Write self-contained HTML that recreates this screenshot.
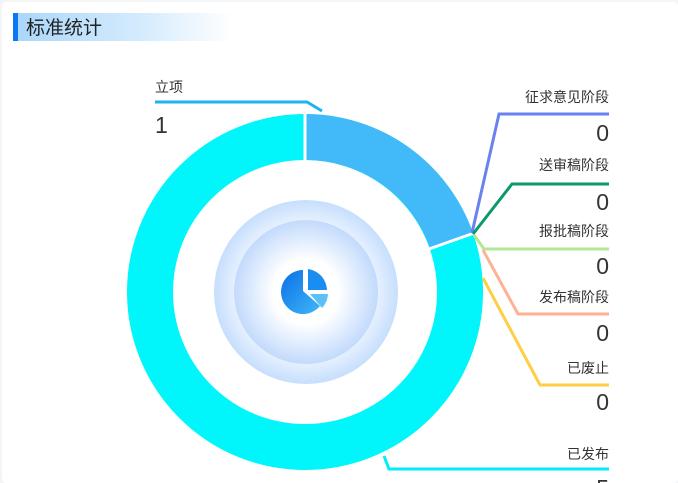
<!DOCTYPE html>
<html><head><meta charset="utf-8"><style>
html,body{margin:0;padding:0;background:#f4f5f7;}
.card{position:absolute;left:2px;top:2px;width:676px;height:481px;background:#fff;border-radius:4px;overflow:hidden;}
svg{position:absolute;left:0;top:0}
text{font-family:"Liberation Sans","Noto Sans CJK SC",sans-serif;}
</style></head><body>
<div class="card"></div>
<svg width="678" height="483" viewBox="0 0 678 483">
<defs>
<linearGradient id="hd" x1="0" x2="1"><stop offset="0" stop-color="#a9d6fb"/><stop offset="0.6" stop-color="#d6ecfd"/><stop offset="1" stop-color="#fff"/></linearGradient>
<radialGradient id="g1"><stop offset="0.6" stop-color="#fff"/><stop offset="1" stop-color="#c6defd"/></radialGradient>
<radialGradient id="g2"><stop offset="0.45" stop-color="#fff"/><stop offset="1" stop-color="#c2dafc"/></radialGradient>
<linearGradient id="pi" x1="0" y1="0" x2="1" y2="1"><stop offset="0" stop-color="#0a6fe6"/><stop offset="1" stop-color="#3fb7f8"/></linearGradient>
</defs>
<rect x="13" y="13" width="220" height="28" fill="url(#hd)"/>
<rect x="13" y="13" width="5" height="28" fill="#0a78f5"/>
<text x="26" y="34" font-size="19" fill="#222">标准统计</text>

<!-- donut -->
<circle cx="305" cy="292" r="155" fill="none" stroke="#00f6fa" stroke-width="46"/>
<path d="M305 114 A178 178 0 0 1 473 233 L430 248 A132 132 0 0 0 305 160 Z" fill="#42b9f9"/>
<line x1="305" y1="112" x2="305" y2="162" stroke="#fff" stroke-width="3"/>
<line x1="429" y1="249" x2="477" y2="232" stroke="#fff" stroke-width="3"/>

<circle cx="306" cy="292" r="92" fill="url(#g1)"/>
<circle cx="306" cy="292" r="72" fill="url(#g2)"/>
<!-- pie icon -->
<path d="M303 270 A22 22 0 1 0 320 306 L303 291 Z" fill="url(#pi)"/>
<path d="M308 269 A22 22 0 0 1 327 290 L308 290 Z" fill="#1a8ef0"/>
<path d="M310 294 L328 294 A22 22 0 0 1 322 308 Z" fill="#5cc0f8"/>

<!-- labels -->
<g font-size="14" fill="#333">
<text x="155" y="92">立项</text>
<text x="609" y="102" text-anchor="end">征求意见阶段</text>
<text x="609" y="170" text-anchor="end">送审稿阶段</text>
<text x="609" y="236" text-anchor="end">报批稿阶段</text>
<text x="609" y="302" text-anchor="end">发布稿阶段</text>
<text x="609" y="373" text-anchor="end">已废止</text>
<text x="609" y="459" text-anchor="end">已发布</text>
</g>
<g font-size="23" fill="#333">
<text x="155" y="133">1</text>
<text x="609" y="141" text-anchor="end">0</text>
<text x="609" y="210" text-anchor="end">0</text>
<text x="609" y="274" text-anchor="end">0</text>
<text x="609" y="341" text-anchor="end">0</text>
<text x="609" y="410" text-anchor="end">0</text>
<text x="609" y="496" text-anchor="end">5</text>
</g>
<g fill="none" stroke-width="3">
<polyline points="155,102 307,102 322,111" stroke="#1fb3f0"/>
<polyline points="472,233 499,114 609,114" stroke="#6a82f0"/>
<polyline points="473,234 512,184 609,184" stroke="#0a9a6c"/>
<polyline points="474,235 484,249 609,249" stroke="#b3e796"/>
<polyline points="483,250 518,314 609,314" stroke="#ffb196"/>
<polyline points="483,278 540,385 609,385" stroke="#ffce45"/>
<polyline points="384,456 389,469 609,469" stroke="#00eef8"/>
</g>
</svg>
</body></html>
